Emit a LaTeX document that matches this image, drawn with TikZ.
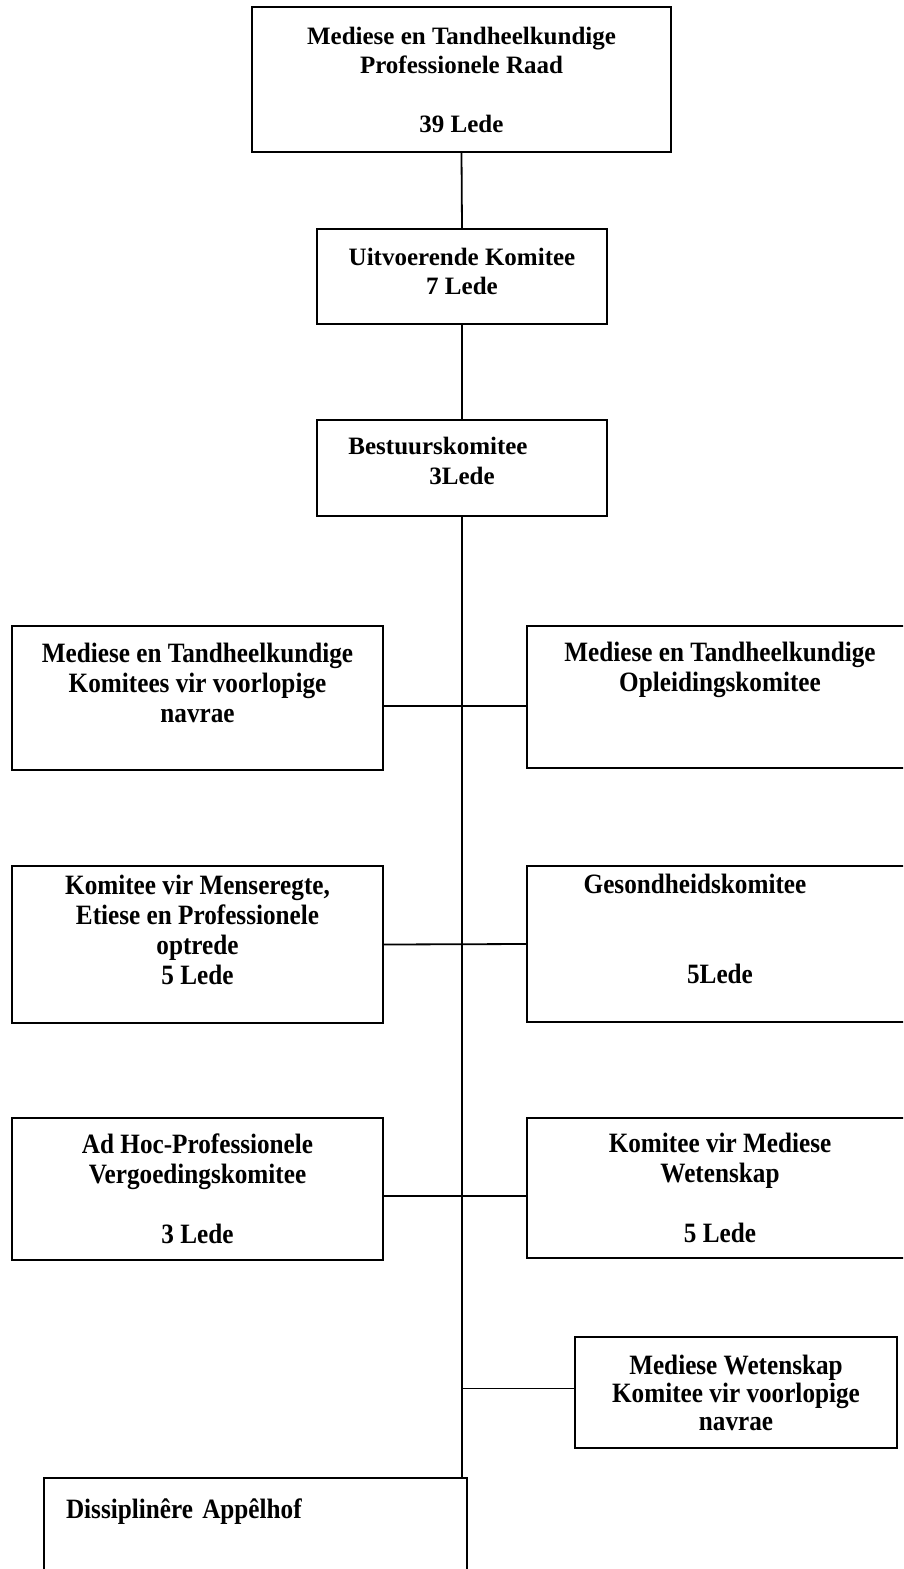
\documentclass[tikz,border=0pt]{standalone}
\usepackage{fontspec}
\setmainfont{Liberation Serif}
\newfontfamily\condfont[FakeStretch=0.9]{Liberation Serif}
\usetikzlibrary{positioning}

\begin{document}
\begin{tikzpicture}[
    x=1pt, y=-1pt,
    orgbox/.style={rectangle, draw, line width=1.8pt, align=center, inner sep=0pt,
        font=\fontsize{25}{29.3}\selectfont\bfseries},
    subbox/.style={rectangle, draw, line width=1.8pt, align=center, inner sep=0pt,
        font=\condfont\fontsize{28}{30}\selectfont\bfseries},
    link/.style={line width=1.8pt},
]
\useasboundingbox (0,0) rectangle (903,1569);
\clip (0,0) rectangle (903,1569);

% top of the chart
\node[orgbox, minimum width=419pt, minimum height=145pt] (raad) at (461.5,79.5)
    {Mediese en Tandheelkundige\\Professionele Raad\\~\\39 Lede};
\node[orgbox, minimum width=290pt, minimum height=95pt] (uitvoerend) at (462,276.5)
    {Uitvoerende Komitee\\7 Lede\\[-19pt]~};
\node[orgbox, minimum width=290pt, minimum height=96pt] (bestuur) at (462,468)
    {Bestuurskomitee\hspace*{48pt}\\3Lede\\[-15pt]~};

% committees
\node[subbox, minimum width=371pt, minimum height=144pt] (voorlnavrae) at (197.5,698)
    {Mediese en Tandheelkundige\\Komitees vir voorlopige\\navrae\\~};
\node[subbox, minimum width=386pt, minimum height=142pt] (opleiding) at (720,697)
    {Mediese en Tandheelkundige\\Opleidingskomitee\\~\\~};
\node[subbox, minimum width=371pt, minimum height=157pt] (menseregte) at (197.5,944.5)
    {Komitee vir Menseregte,\\Etiese en Professionele\\optrede\\5 Lede\\~};
\node[subbox, minimum width=386pt, minimum height=156pt] (gesondheid) at (720,944)
    {Gesondheidskomitee\hspace*{50pt}\\~\\~\\5Lede\\~};
\node[subbox, minimum width=371pt, minimum height=142pt] (vergoeding) at (197.5,1189)
    {Ad Hoc-Professionele\\Vergoedingskomitee\\~\\3 Lede};
\node[subbox, minimum width=386pt, minimum height=140pt] (wetenskap) at (720,1188)
    {Komitee vir Mediese\\Wetenskap\\~\\5 Lede};
\node[subbox, minimum width=322pt, minimum height=111pt,
    font=\condfont\fontsize{28}{28}\selectfont\bfseries] (mwnavrae) at (736,1392.5)
    {Mediese Wetenskap\\Komitee vir voorlopige\\navrae};
\node[subbox, minimum width=423pt, minimum height=122pt, align=left,
    text width=379pt, inner xsep=22pt] (appelhof) at (255.5,1539)
    {Dissiplinêre Appêlhof\\~\\~};

% connectors
\draw[link] (raad.south) -- (uitvoerend.north);
\draw[link] (uitvoerend.south) -- (bestuur.north);
\draw[link] (bestuur.south) -- (bestuur.south |- appelhof.north);
\draw[link] ([yshift=-8pt]voorlnavrae.east) -- ([yshift=-8pt]voorlnavrae.east -| opleiding.west);
\draw[link] (menseregte.east) -- (gesondheid.west);
\draw[link] ([yshift=-7pt]vergoeding.east) -- ([yshift=-7pt]vergoeding.east -| wetenskap.west);
\draw[link] ([yshift=4pt]bestuur.south |- mwnavrae.west) -- ([yshift=4pt]mwnavrae.west);

\end{tikzpicture}
\end{document}
